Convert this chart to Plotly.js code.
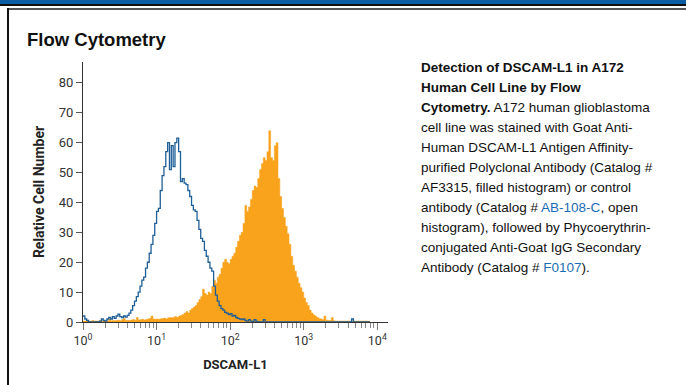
<!DOCTYPE html>
<html>
<head>
<meta charset="utf-8">
<script src="https://cdn.plot.ly/plotly-3.0.1.min.js"></script>
<style>
  html, body { margin:0; padding:0; background:#fff; }
  #wrap { position:relative; width:686px; height:385px; overflow:hidden; }
  #chart { position:absolute; left:0; top:0; width:686px; height:385px; }
  .bar-blue { position:absolute; left:0; top:0; width:686px; height:4px; background:#0b5ea6; }
  .bar-black { position:absolute; left:0; top:4px; width:686px; height:2px; background:#111; }
  .bar-gray { position:absolute; left:8px; top:8px; width:678px; height:2px; background:#555; }
  .side { position:absolute; left:7px; top:8px; width:2px; height:377px; background:#111; }
  #title { position:absolute; left:27px; top:31px; font:bold 18.5px/18.5px "Liberation Sans", Arial, sans-serif; color:#111; }
  #caption { position:absolute; left:421px; top:58px; font:13.5px/20px "Liberation Sans", Arial, sans-serif; color:#111; white-space:nowrap; }
  #caption .lnk { color:#1b6db3; }
</style>
</head>
<body>
<div id="wrap">
  <div id="chart"></div>
  <div class="bar-blue"></div>
  <div class="bar-black"></div>
  <div class="bar-gray"></div>
  <div class="side"></div>
  <div id="title">Flow Cytometry</div>
  <div id="caption">
    <b>Detection of DSCAM-L1 in A172</b><br>
    <b>Human Cell Line by Flow</b><br>
    <b>Cytometry.</b> A172 human glioblastoma<br>
    cell line was stained with Goat Anti-<br>
    Human DSCAM-L1 Antigen Affinity-<br>
    purified Polyclonal Antibody (Catalog #<br>
    AF3315, filled histogram) or control<br>
    antibody (Catalog # <span class="lnk">AB-108-C</span>, open<br>
    histogram), followed by Phycoerythrin-<br>
    conjugated Anti-Goat IgG Secondary<br>
    Antibody (Catalog # <span class="lnk">F0107</span>).
  </div>
</div>
<script>
// Histogram channels: bins of 0.025 decade starting at 10^0
const binStartLog = 0;
const binStepLog = 0.025;

// Control antibody (open histogram, blue) counts per channel
const controlCounts = [
  2, 1, 0.5, 0, 0, 0, 0, 0, 0, 0.3,
  1, 0.5, 0.3, 1, 1.5, 1, 1.8, 1.2, 2, 2.6,
  1.8, 1.5, 2, 1.6, 2.2, 3, 4, 5.5, 7, 8.5,
  10, 12, 14, 15, 18, 20, 23, 26, 29, 33,
  37, 38, 44, 49, 52, 57, 60, 51, 59, 52,
  60, 61.5, 57, 47, 48, 46.5, 46, 44, 42, 39,
  37.5, 37, 34, 31, 28, 27, 24, 22, 20, 18,
  17, 12, 9, 7, 5.5, 4.5, 4, 3.2, 3, 2.5,
  2.8, 2, 2.2, 1.5, 1.2, 1, 0.8, 1, 0.5, 0.3,
  0.8, 0.3, 0.2, 0.8, 0.2, 0, 0, 0, 0.8, 0,
  0, 0, 0, 0, 0, 0, 0, 0, 0, 0,
  0, 0, 0, 0, 0, 0, 0, 0, 0, 0,
  0, 0, 0, 0, 0, 0, 0, 0, 0, 0,
  0, 0, 0, 0, 0, 0, 0, 0, 0, 0,
  0, 0, 0, 0, 0, 0, 1, 0, 0, 0,
  0, 0, 0, 0, 0, 0, 0
];

// DSCAM-L1 antibody AF3315 (filled histogram, orange) counts per channel
const af3315Counts = [
  0.3, 0.3, 0.3, 0.3, 0.3, 0.5, 0.3, 0.3, 0.3, 0.5,
  0.3, 0.5, 0.5, 0.3, 1, 0.4, 0.5, 0.4, 0.5, 0.6,
  0.4, 0.8, 1.2, 0.5, 0.6, 0.5, 0.7, 0.8, 0.6, 1.5,
  0.7, 0.8, 0.9, 0.7, 0.8, 1, 1.2, 2, 1, 0.9,
  1, 0.9, 1.1, 1.2, 1.3, 1, 1.4, 1.5, 1.4, 1.6,
  1.8, 1.5, 2, 2.2, 2.5, 3, 3.5, 3, 4, 4.5,
  5, 5.5, 6.5, 7.5, 8.5, 11, 9.5, 9, 10, 9.5,
  12, 14, 13, 15, 16, 18, 20, 21, 20, 19.5,
  21, 22, 23, 25, 27, 29, 30, 33, 39, 37,
  38.5, 41, 44, 45.5, 45, 48, 51, 53, 55, 54,
  57, 64, 55, 54, 59, 60, 48, 42, 38, 35,
  32, 29.5, 26, 22, 19, 17, 15, 13, 11.5, 10,
  8, 6.5, 5.5, 4, 3, 2.4, 2, 1.5, 1.2, 1,
  0.8, 2, 0.6, 0.5, 0.5, 1.5, 0.4, 0.3, 0.3, 0.3,
  0.3, 0.3, 0.3, 0.3, 0.3, 0.3, 0.3, 0.3, 0.3, 0.3,
  0.3, 0.3, 0.3, 0.3, 0.3, 0.3, 0.3
];

const xTickVals = [1, 10, 100, 1000, 10000];
const xTickText = ['10<sup>0</sup>', '10<sup>1</sup>', '10<sup>2</sup>', '10<sup>3</sup>', '10<sup>4</sup>'];
const yTickVals = [0, 10, 20, 30, 40, 50, 60, 70, 80];

function channelX(n) {
  const xs = [];
  for (let i = 0; i < n; i++) xs.push(Math.pow(10, binStartLog + i * binStepLog));
  return xs;
}
const minorVals = [];
for (let d = 0; d < 4; d++) for (let k = 2; k <= 9; k++) minorVals.push(k * Math.pow(10, d));

const narrow = 'Roboto, "Liberation Sans", sans-serif';

const traces = [
  {
    x: channelX(af3315Counts.length), y: af3315Counts,
    type: 'scatter', mode: 'lines', line: {shape: 'hv', width: 0.5, color: '#f9a21b'},
    fill: 'tozeroy', fillcolor: '#f9a21b', name: 'AF3315', hoverinfo: 'skip'
  },
  {
    x: channelX(controlCounts.length), y: controlCounts,
    type: 'scatter', mode: 'lines', line: {shape: 'hv', width: 1.3, color: '#1f5f97'},
    name: 'AB-108-C', hoverinfo: 'skip'
  }
];

const layout = {
  width: 686, height: 385,
  margin: {l: 83, r: 298, t: 62, b: 63, pad: 0},
  paper_bgcolor: 'rgba(0,0,0,0)', plot_bgcolor: 'rgba(0,0,0,0)',
  showlegend: false,
  xaxis: {
    type: 'log', range: [0, 4.145],
    tickvals: xTickVals, ticktext: xTickText,
    ticks: 'outside', ticklen: 7, tickcolor: '#777', tickwidth: 1,
    showline: true, linecolor: '#333', linewidth: 1,
    showgrid: false, zeroline: false,
    tickfont: {family: narrow, size: 12.5, color: '#333'},
    minor: {tickvals: minorVals, ticks: 'outside', ticklen: 5, tickcolor: '#888', tickwidth: 1, showgrid: false},
    title: {text: '<b>DSCAM-L1</b>', font: {family: narrow, size: 13, color: '#222'}, standoff: 12}
  },
  yaxis: {
    range: [0, 87],
    tickvals: yTickVals,
    ticks: 'outside', ticklen: 6, tickcolor: '#555', tickwidth: 1,
    showline: true, linecolor: '#333', linewidth: 1,
    showgrid: false, zeroline: false,
    tickfont: {family: narrow, size: 13, color: '#333'},
    title: {text: '<b>Relative Cell Number</b>', font: {family: narrow, size: 14, color: '#222'}, standoff: 10}
  }
};

Plotly.newPlot('chart', traces, layout, {staticPlot: true, displayModeBar: false});
</script>
</body>
</html>
